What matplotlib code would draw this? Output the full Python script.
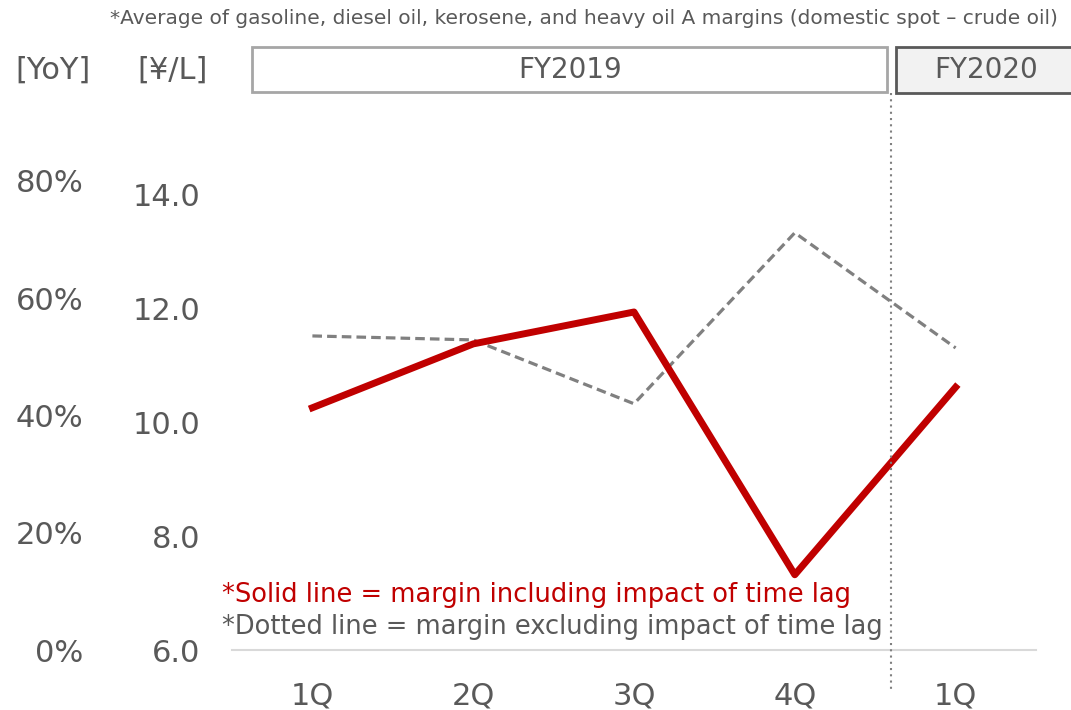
import numpy as np
import matplotlib.pyplot as plt
from matplotlib.patches import Rectangle
from matplotlib.lines import Line2D

# DATA
quarters = ["1Q", "2Q", "3Q", "4Q", "1Q"]
margin_with_lag = [10.25, 11.37, 11.93, 7.32, 10.61]
margin_without_lag = [11.51, 11.44, 10.32, 13.32, 11.30]
value_ticks = [6.0, 8.0, 10.0, 12.0, 14.0]
yoy_ticks = [0, 20, 40, 60, 80]

plt.rcParams['font.family'] = ['DejaVu Sans']

W, H = 1071, 710
TXT = "#595959"

fig = plt.figure(figsize=(W / 100, H / 100), dpi=100)


def fx(px):
    return px / W


def fy(py):
    return 1 - py / H


# MAIN AXES
ax = fig.add_axes([fx(232), fy(650), fx(1036) - fx(232), fy(137) - fy(650)])
x_pos = np.arange(len(quarters))
ax.plot(x_pos, margin_without_lag, color="#808080", lw=2.3, ls=(0, (3, 1.6)), zorder=2)
ax.plot(x_pos, margin_with_lag, color="#C00000", lw=5, zorder=3)
ax.set_xlim(-0.5, 4.5)
ax.set_ylim(6.0, 15.0)
ax.set_yticks(value_ticks)
ax.set_yticklabels(["%.1f" % v for v in value_ticks], fontsize=22, color=TXT)
ax.set_xticks(x_pos)
ax.set_xticklabels(quarters, fontsize=22, color=TXT)
ax.tick_params(axis="both", length=0)
ax.tick_params(axis="y", pad=23)
ax.tick_params(axis="x", pad=23)
for s in ["top", "right", "left"]:
    ax.spines[s].set_visible(False)
ax.spines["bottom"].set_color("#D9D9D9")
ax.spines["bottom"].set_linewidth(1.5)
ax.patch.set_alpha(0)

# YOY AXIS (left, outer)
ax2 = ax.twinx()
ax2.set_ylim(0, 87.5)
ax2.yaxis.tick_left()
ax2.set_yticks(yoy_ticks)
ax2.set_yticklabels(["%d%%" % v for v in yoy_ticks], fontsize=22, color=TXT)
ax2.tick_params(axis="y", length=0, pad=107)
for s in ax2.spines.values():
    s.set_visible(False)

# HEADER
fig.text(fx(1058), fy(18), "*Average of gasoline, diesel oil, kerosene, and heavy oil A margins (domestic spot \u2013 crude oil)",
         ha="right", va="center", fontsize=14.5, color=TXT)
fig.text(fx(53), fy(70), "[YoY]", ha="center", va="center", fontsize=22, color=TXT)
fig.text(fx(173), fy(70), "[\u00a5/L]", ha="center", va="center", fontsize=22, color=TXT)

fig.patches.append(Rectangle((fx(252), fy(92)), fx(887) - fx(252), fy(47) - fy(92),
                             transform=fig.transFigure, facecolor="white", edgecolor="#A6A6A6", lw=2))
fig.text(fx(570), fy(70), "FY2019", ha="center", va="center", fontsize=20, color=TXT)
fig.patches.append(Rectangle((fx(896), fy(93)), fx(1080) - fx(896), fy(47) - fy(93),
                             transform=fig.transFigure, facecolor="#F2F2F2", edgecolor="#595959", lw=2))
fig.text(fx(986), fy(70), "FY2020", ha="center", va="center", fontsize=20, color=TXT)

# FISCAL YEAR DIVIDER
fig.lines.append(Line2D([fx(891), fx(891)], [fy(93), fy(690)], transform=fig.transFigure,
                        color="#808080", lw=1.5, ls=(0, (1, 2))))

# NOTES
fig.text(fx(222), fy(595), "*Solid line = margin including impact of time lag",
         ha="left", va="center", fontsize=18.5, color="#C00000")
fig.text(fx(222), fy(627), "*Dotted line = margin excluding impact of time lag",
         ha="left", va="center", fontsize=18.5, color=TXT)

fig.savefig("out.png", dpi=100)
